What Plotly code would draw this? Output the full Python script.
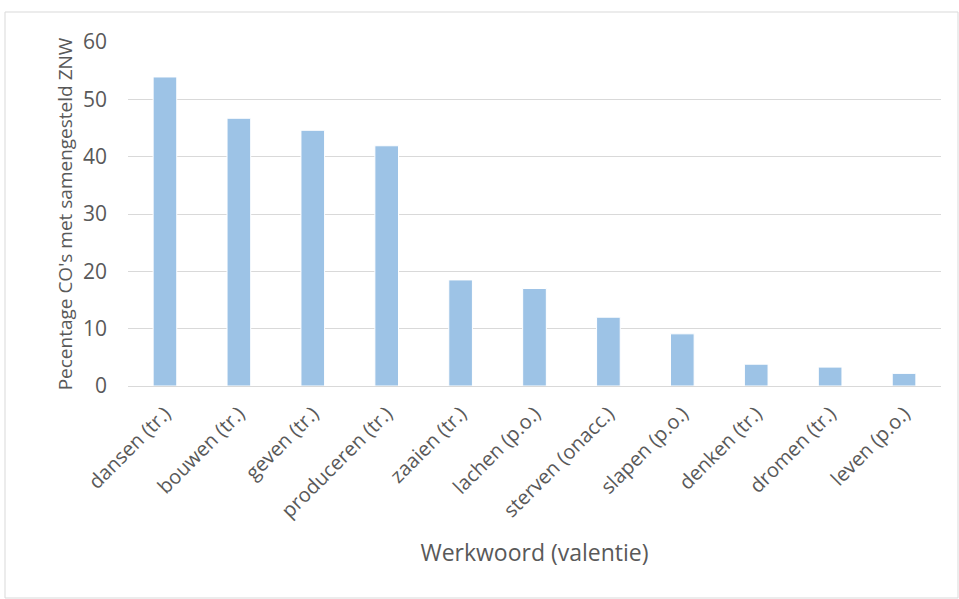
import plotly.graph_objects as go

categories = ["dansen (tr.)", "bouwen (tr.)", "geven (tr.)", "produceren (tr.)", "zaaien (tr.)",
              "lachen (p.o.)", "sterven (onacc.)", "slapen (p.o.)", "denken (tr.)", "dromen (tr.)",
              "leven (p.o.)"]
values = [53.9, 46.7, 44.6, 41.9, 18.5, 17.0, 12.0, 9.1, 3.8, 3.3, 2.2]
y_ticks = [0, 10, 20, 30, 40, 50, 60]

FONT = "'Open Sans', sans-serif"
TXT = "#595959"

fig = go.Figure(go.Bar(
    x=categories, y=values,
    marker=dict(color="#9DC3E6", line=dict(color="#ffffff", width=1)),
    width=0.32,
))

W, H = 959, 599
L, R, T, B = 128, 18, 42, 213
pw, ph = W - L - R, H - T - B

def px(x):
    return (x - L) / pw

def py(y):
    return (H - B - y) / ph

fig.update_layout(
    width=W, height=H,
    margin=dict(l=L, r=R, t=T, b=B),
    paper_bgcolor="white", plot_bgcolor="white",
    showlegend=False,
    font=dict(family=FONT, color=TXT, size=16),
    xaxis=dict(
        tickangle=-45, tickfont=dict(size=20, color=TXT),
        showgrid=False, showline=False, ticks="", ticklabelstandoff=11,
        title=dict(text="Werkwoord (valentie)", font=dict(size=23, color=TXT), standoff=22),
    ),
    yaxis=dict(
        range=[0, 60], tickvals=y_ticks, tickfont=dict(size=21, color=TXT),
        showgrid=True, gridcolor="#D9D9D9", gridwidth=1,
        zeroline=True, zerolinecolor="#D9D9D9", zerolinewidth=1,
        showline=False, ticks="", ticklabelstandoff=20,
        title=dict(text="Pecentage CO's met samengesteld ZNW", font=dict(size=19, color=TXT), standoff=5),
    ),
    shapes=[dict(type="rect", xref="paper", yref="paper",
                 x0=px(5), x1=px(958), y0=py(598), y1=py(12),
                 line=dict(color="#D9D9D9", width=1), fillcolor="rgba(0,0,0,0)", layer="below")],
)

fig.write_html("out.html")
